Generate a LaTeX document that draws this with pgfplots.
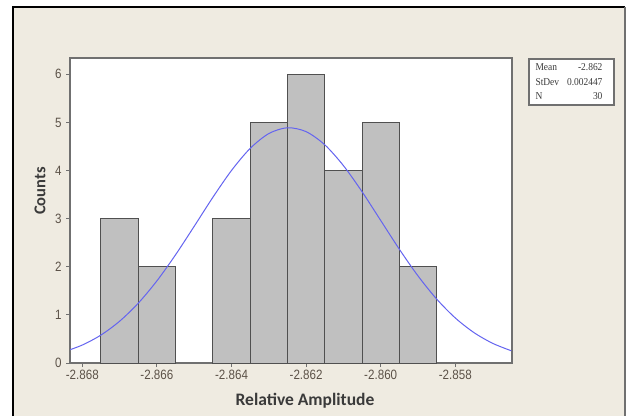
\documentclass[border=0pt]{standalone}
\usepackage{pgfplots}
\pgfplotsset{compat=1.18}
\usepackage{fontspec}
\setmainfont{Liberation Sans}
\newfontfamily\tickfont[FakeStretch=0.86]{Liberation Sans}
\newfontfamily\labfont{Carlito}
\newfontfamily\legfont[FakeStretch=0.9]{Liberation Serif}
\definecolor{bgbeige}{HTML}{EFEBE1}
\definecolor{framegray}{HTML}{707070}
\definecolor{barfill}{HTML}{C0C0C0}
\definecolor{baredge}{HTML}{505050}
\definecolor{curveblue}{HTML}{6464F0}
\definecolor{tickcol}{HTML}{5C5248}
\definecolor{labcol}{HTML}{3A3A3A}
\begin{document}
\begin{tikzpicture}[x=1pt,y=1pt]
\useasboundingbox (0,0) rectangle (627,416);
\fill[white] (0,0) rectangle (627,416);
\fill[bgbeige] (13,0) rectangle (625,409);
\draw[black,line width=1.3pt] (13,0) -- (13,409) -- (625,409);
\draw[framegray,line width=1.3pt] (625,409) -- (625,0);
\begin{axis}[
  at={(70pt,53pt)}, anchor=south west,
  scale only axis, width=442pt, height=305pt,
  xmin=-2.86833, xmax=-2.85648, ymin=0, ymax=6.34,
  axis background/.style={fill=white},
  axis line style={draw=framegray,line width=1.2pt},
  xtick={-2.868,-2.866,-2.864,-2.862,-2.860,-2.858},
  xticklabels={-2.868,-2.866,-2.864,-2.862,-2.860,-2.858},
  ytick={0,1,2,3,4,5,6},
  yticklabels={0,1,2,3,4,5,6},
  tick align=outside, major tick length=4pt,
  tick style={draw=framegray,line width=1pt},
  xtick pos=bottom, ytick pos=left,
  ticklabel style={font=\tickfont\fontsize{13.5}{14}\selectfont, text=tickcol},
  xticklabel style={yshift=0pt},
  yticklabel style={xshift=-1pt},
  clip=true,
]
\addplot[ybar interval, fill=barfill, draw=baredge, line width=1pt] coordinates {
(-2.8675,3) (-2.8665,2) (-2.8655,2)
};
\addplot[ybar interval, fill=barfill, draw=baredge, line width=1pt] coordinates {
(-2.8645,3) (-2.8635,5) (-2.8625,6) (-2.8615,4) (-2.8605,5) (-2.8595,2) (-2.8585,2)
};
\addplot[curveblue, line width=1pt, smooth, no markers] coordinates {
(-2.8685,0.2301) (-2.8680,0.3735) (-2.8675,0.5814) (-2.8670,0.8682) (-2.8665,1.2432)
(-2.8660,1.7074) (-2.8655,2.2494) (-2.8650,2.8417) (-2.8645,3.4435) (-2.8640,4.0021)
(-2.8635,4.4609) (-2.8630,4.7690) (-2.8625,4.8900) (-2.8620,4.8090) (-2.8615,4.5359)
(-2.8610,4.1034) (-2.8605,3.5605) (-2.8600,2.9630) (-2.8595,2.3648) (-2.8590,1.8102)
(-2.8585,1.3293) (-2.8580,0.9360) (-2.8575,0.6322) (-2.8570,0.4095) (-2.8565,0.2543)
};
\end{axis}
\node[font=\labfont\bfseries\fontsize{17.5}{19}\selectfont, text=labcol] at (305,15) {Relative Amplitude};
\node[font=\labfont\bfseries\fontsize{16.5}{18}\selectfont, text=labcol, rotate=90] at (40,225) {Counts};
\draw[framegray, fill=white, line width=1.3pt] (529,311) rectangle (614,357);
\node[anchor=base west, font=\legfont\fontsize{10.5}{11}\selectfont, text=labcol] at (532,345.5) {Mean};
\node[anchor=base east, font=\legfont\fontsize{10.5}{11}\selectfont, text=labcol] at (606,345.5) {-2.862};
\node[anchor=base west, font=\legfont\fontsize{10.5}{11}\selectfont, text=labcol] at (532,330.5) {StDev};
\node[anchor=base east, font=\legfont\fontsize{10.5}{11}\selectfont, text=labcol] at (606,330.5) {0.002447};
\node[anchor=base west, font=\legfont\fontsize{10.5}{11}\selectfont, text=labcol] at (532,316.5) {N};
\node[anchor=base east, font=\legfont\fontsize{10.5}{11}\selectfont, text=labcol] at (606,316.5) {30};
\end{tikzpicture}
\end{document}
